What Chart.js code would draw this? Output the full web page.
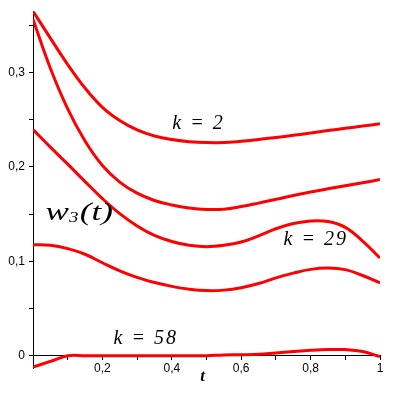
<!DOCTYPE html>
<html>
<head>
<meta charset="utf-8">
<script src="https://cdn.jsdelivr.net/npm/chart.js@4/dist/chart.umd.min.js"></script>
<style>
  html, body { margin: 0; padding: 0; background: #fff; }
</style>
</head>
<body>
<canvas id="c" width="396" height="403"></canvas>
<script>
// t values shared by all curves
var tValues = [0, 0.05, 0.1, 0.15, 0.2, 0.25, 0.3, 0.35, 0.4, 0.45, 0.5,
  0.55, 0.6, 0.65, 0.7, 0.75, 0.8, 0.85, 0.9, 0.95, 1];

// w3(t), one list per curve (top to bottom)
var curveK2 = [0.365, 0.3365, 0.3085, 0.2835, 0.2632, 0.2492, 0.2392, 0.2328, 0.229, 0.2268, 0.2258,
  0.2258, 0.2272, 0.229, 0.2312, 0.2335, 0.236, 0.2385, 0.241, 0.2433, 0.2458];
var curveB = [0.3565, 0.3045, 0.2615, 0.2275, 0.2015, 0.184, 0.1722, 0.1645, 0.1597, 0.1565, 0.155,
  0.1553, 0.158, 0.1617, 0.1657, 0.1698, 0.1735, 0.1768, 0.18, 0.1833, 0.1866];
var curveK29 = [0.2396, 0.221, 0.203, 0.1845, 0.1665, 0.1505, 0.1375, 0.1275, 0.121, 0.117, 0.1155,
  0.117, 0.1205, 0.127, 0.1345, 0.14, 0.1428, 0.1422, 0.136, 0.1215, 0.1035];
var curveD = [0.1175, 0.117, 0.1135, 0.1075, 0.0985, 0.09, 0.083, 0.0775, 0.0735, 0.0705, 0.069,
  0.0695, 0.072, 0.0765, 0.0825, 0.0875, 0.0915, 0.093, 0.0912, 0.085, 0.0773];
var curveK58 = [-0.012, -0.006, 0, 0, 0, 0, 0, 0, 0, 0, 0,
  0.0008, 0.001, 0.0015, 0.003, 0.0045, 0.0058, 0.0066, 0.0065, 0.0045, -0.001];

var xTicks = [0, 0.1, 0.2, 0.3, 0.4, 0.5, 0.6, 0.7, 0.8, 0.9, 1];
var yTicks = [0, 0.05, 0.1, 0.15, 0.2, 0.25, 0.3, 0.35];

var toPoints = ys => ys.map((y, i) => ({ x: tValues[i], y: y }));

var datasets = [curveK2, curveB, curveK29, curveD, curveK58].map(ys => ({
  data: toPoints(ys),
  borderColor: 'rgb(255, 0, 0)',
  borderWidth: 3,
  pointRadius: 0,
  tension: 0.4,
  fill: false
}));

// comma decimal labels
var fmt = v => String(Math.round(v * 10) / 10).replace('.', ',');

// text annotations placed in data coordinates
var annotate = {
  id: 'annotate',
  afterDraw(chart) {
    var ctx = chart.ctx;
    var xs = chart.scales.x, ys = chart.scales.y;
    var px = t => xs.getPixelForValue(t);
    var py = v => ys.getPixelForValue(v);
    ctx.save();
    ctx.fillStyle = '#000';
    ctx.textBaseline = 'middle';
    ctx.textAlign = 'center';
    ctx.font = 'italic 20px "Liberation Serif"';
    ctx.letterSpacing = '2px';
    ctx.fillText('k = 2', px(0.477), py(0.2455));
    ctx.fillText('k = 29', px(0.815), py(0.123));
    ctx.fillText('k = 58', px(0.325), py(0.0183));
    ctx.letterSpacing = '0px';

    // w3(t) with subscript, stretched a little sideways
    ctx.save();
    ctx.translate(px(0.036), py(0.151));
    ctx.scale(1.35, 1);
    ctx.textAlign = 'left';
    var x = 0;
    ctx.font = 'italic 26px "Liberation Serif"';
    ctx.fillText('w', x, 0);
    x += ctx.measureText('w').width;
    ctx.font = 'italic 14px "Liberation Serif"';
    ctx.fillText('3', x, 5);
    x += ctx.measureText('3').width + 1;
    ctx.font = 'italic 26px "Liberation Serif"';
    ctx.fillText('(t)', x, 0);
    ctx.restore();

    ctx.font = 'italic bold 17px "Liberation Serif"';
    ctx.fillText('t', px(0.489), py(-0.0225));
    ctx.restore();
  }
};

new Chart(document.getElementById('c').getContext('2d'), {
  type: 'line',
  data: { datasets: datasets },
  options: {
    responsive: false,
    animation: false,
    layout: { padding: { left: 0, right: 16, top: 7, bottom: 35 } },
    plugins: { legend: { display: false }, tooltip: { enabled: false } },
    scales: {
      x: {
        type: 'linear',
        min: 0,
        max: 1,
        position: { y: 0 },
        afterBuildTicks: s => { s.ticks = xTicks.map(v => ({ value: v })); },
        grid: { drawOnChartArea: false, drawTicks: true, tickLength: 4, color: '#000' },
        border: { display: true, color: '#000', width: 1 },
        ticks: {
          autoSkip: false,
          maxRotation: 0,
          padding: 2,
          color: '#000',
          font: { family: '"Liberation Sans"', size: 12 },
          callback: v => (Math.round(v * 10) % 2 === 0 && v > 0) ? fmt(v) : ''
        }
      },
      y: {
        type: 'linear',
        min: -0.013,
        max: 0.365,
        position: 'left',
        afterFit: s => { s.width = 33; },
        afterBuildTicks: s => { s.ticks = yTicks.map(v => ({ value: v })); },
        grid: { drawOnChartArea: false, drawTicks: true, tickLength: 4, color: '#000' },
        border: { display: true, color: '#000', width: 1 },
        ticks: {
          autoSkip: false,
          padding: 4,
          color: '#000',
          font: { family: '"Liberation Sans"', size: 12 },
          callback: v => (Math.round(v * 100) % 10 === 0) ? fmt(v) : ''
        }
      }
    }
  },
  plugins: [annotate]
});
</script>
</body>
</html>
